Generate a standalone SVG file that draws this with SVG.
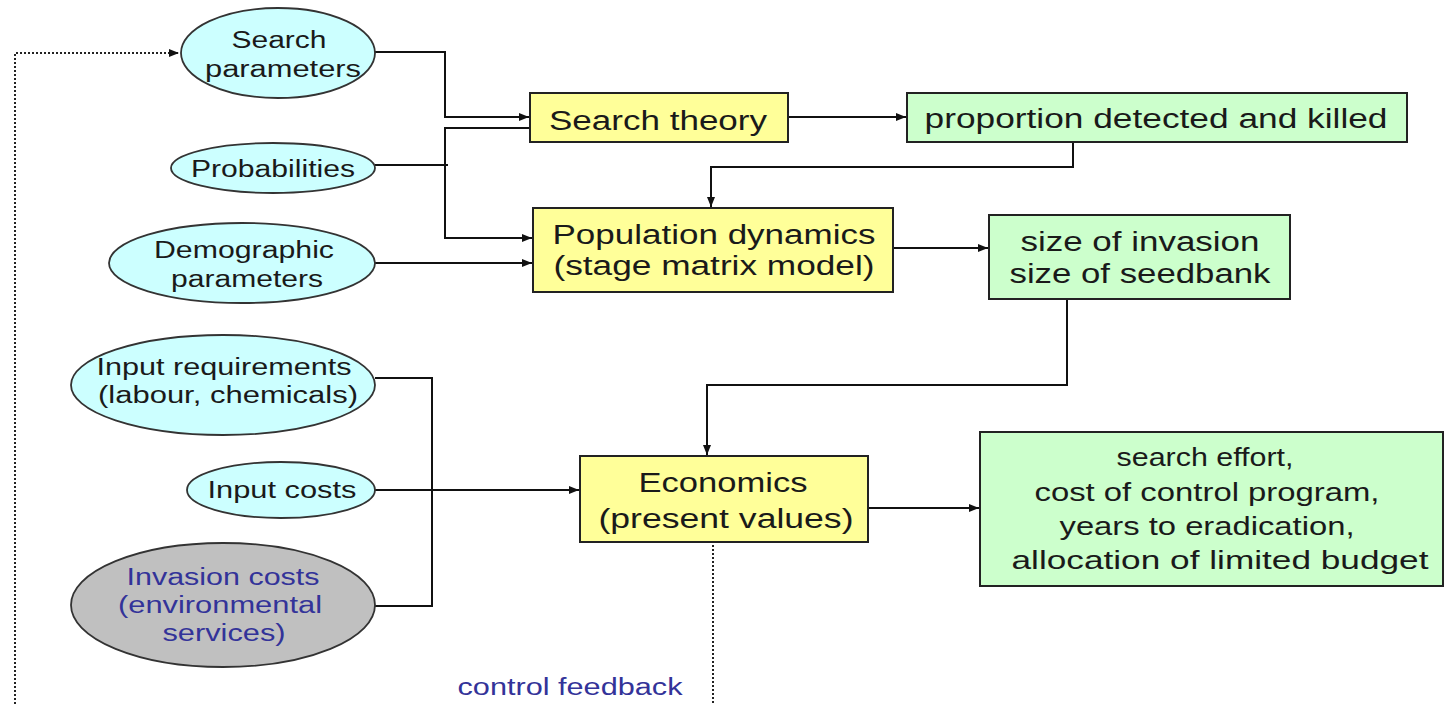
<svg xmlns="http://www.w3.org/2000/svg" width="1444" height="704" viewBox="0 0 1444 704">
<style>
text{font-family:"Liberation Sans",Arial,sans-serif;fill:#1a1a1a;text-anchor:middle}
.e{fill:#ccffff;stroke:#333;stroke-width:1.8}
.g{fill:#c0c0c0;stroke:#333;stroke-width:1.8}
.y{fill:#ffff99;stroke:#222;stroke-width:2}
.gr{fill:#ccffcc;stroke:#222;stroke-width:2}
.s{font-size:23px}
.b{font-size:27px}
.r{font-size:25px}
.blue{fill:#333399}
.c{fill:none;stroke:#111;stroke-width:2}
.d{fill:none;stroke:#222;stroke-width:2;stroke-dasharray:2 2}
</style>
<defs>
<marker id="a" viewBox="0 0 10 10" refX="10" refY="5" markerWidth="10" markerHeight="10" markerUnits="userSpaceOnUse" orient="auto">
<path d="M0,1 L10,5 L0,9 z" fill="#111"/>
</marker>
</defs>
<rect width="1444" height="704" fill="#fff"/>
<g id="connectors">
<path class="c" d="M375,52 H445 V117 H529" marker-end="url(#a)"/>
<path class="c" d="M375,165 H448"/>
<path class="c" d="M529,128 H445 V238 H532" marker-end="url(#a)"/>
<path class="c" d="M375,263 H532" marker-end="url(#a)"/>
<path class="c" d="M788,117 H906" marker-end="url(#a)"/>
<path class="c" d="M1073,142 V167 H711 V207" marker-end="url(#a)"/>
<path class="c" d="M893,248 H988" marker-end="url(#a)"/>
<path class="c" d="M1067,299 V385 H707 V455" marker-end="url(#a)"/>
<path class="c" d="M375,378 H432 V606 H375"/>
<path class="c" d="M375,490 H579" marker-end="url(#a)"/>
<path class="c" d="M868,508 H979" marker-end="url(#a)"/>
<path class="d" d="M713,545 V704"/>
<path class="d" d="M15,704 V53 H179" marker-end="url(#a)"/>
</g>
<g id="search-parameters">
<ellipse class="e" cx="278" cy="53" rx="97" ry="45"/>
<text class="s" x="279" y="48" textLength="95" lengthAdjust="spacingAndGlyphs">Search</text>
<text class="s" x="283" y="77" textLength="156" lengthAdjust="spacingAndGlyphs">parameters</text>
</g>
<g id="probabilities">
<ellipse class="e" cx="273" cy="168" rx="102" ry="25"/>
<text class="s" x="273" y="177" textLength="164" lengthAdjust="spacingAndGlyphs">Probabilities</text>
</g>
<g id="demographic-parameters">
<ellipse class="e" cx="242" cy="263" rx="133" ry="40"/>
<text class="s" x="244" y="258" textLength="180" lengthAdjust="spacingAndGlyphs">Demographic</text>
<text class="s" x="247" y="287" textLength="152" lengthAdjust="spacingAndGlyphs">parameters</text>
</g>
<g id="input-requirements">
<ellipse class="e" cx="223" cy="385" rx="152" ry="50"/>
<text class="s" x="224" y="375" textLength="255" lengthAdjust="spacingAndGlyphs">Input requirements</text>
<text class="s" x="228" y="403" textLength="260" lengthAdjust="spacingAndGlyphs">(labour, chemicals)</text>
</g>
<g id="input-costs">
<ellipse class="e" cx="281" cy="490" rx="94" ry="28"/>
<text class="s" x="282" y="498" textLength="149" lengthAdjust="spacingAndGlyphs">Input costs</text>
</g>
<g id="invasion-costs">
<ellipse class="g" cx="223" cy="605" rx="152" ry="62"/>
<text class="s blue" x="223" y="585" textLength="193" lengthAdjust="spacingAndGlyphs">Invasion costs</text>
<text class="s blue" x="220" y="613" textLength="204" lengthAdjust="spacingAndGlyphs">(environmental</text>
<text class="s blue" x="224" y="641" textLength="123" lengthAdjust="spacingAndGlyphs">services)</text>
</g>
<g id="search-theory">
<rect class="y" x="530" y="93" width="258" height="49"/>
<text class="b" x="658" y="130" textLength="218" lengthAdjust="spacingAndGlyphs">Search theory</text>
</g>
<g id="population-dynamics">
<rect class="y" x="533" y="208" width="360" height="84"/>
<text class="b" x="714" y="244" textLength="323" lengthAdjust="spacingAndGlyphs">Population dynamics</text>
<text class="b" x="714" y="275" textLength="321" lengthAdjust="spacingAndGlyphs">(stage matrix model)</text>
</g>
<g id="proportion-detected">
<rect class="gr" x="907" y="93" width="500" height="49"/>
<text class="b" x="1156" y="128" textLength="463" lengthAdjust="spacingAndGlyphs">proportion detected and killed</text>
</g>
<g id="size-of-invasion">
<rect class="gr" x="989" y="215" width="301" height="84"/>
<text class="b" x="1140" y="251" textLength="239" lengthAdjust="spacingAndGlyphs">size of invasion</text>
<text class="b" x="1140" y="283" textLength="261" lengthAdjust="spacingAndGlyphs">size of seedbank</text>
</g>
<g id="economics">
<rect class="y" x="580" y="456" width="288" height="86"/>
<text class="b" x="723" y="492" textLength="169" lengthAdjust="spacingAndGlyphs">Economics</text>
<text class="b" x="726" y="528" textLength="255" lengthAdjust="spacingAndGlyphs">(present values)</text>
</g>
<g id="results">
<rect class="gr" x="980" y="432" width="463" height="154"/>
<text class="r" x="1205" y="466" textLength="177" lengthAdjust="spacingAndGlyphs">search effort,</text>
<text class="r" x="1207" y="501" textLength="345" lengthAdjust="spacingAndGlyphs">cost of control program,</text>
<text class="r" x="1207" y="535" textLength="295" lengthAdjust="spacingAndGlyphs">years to eradication,</text>
<text class="r" x="1220" y="569" textLength="417" lengthAdjust="spacingAndGlyphs">allocation of limited budget</text>
</g>
<g id="control-feedback">
<text class="s blue" x="570" y="695" textLength="225" lengthAdjust="spacingAndGlyphs">control feedback</text>
</g>
</svg>
